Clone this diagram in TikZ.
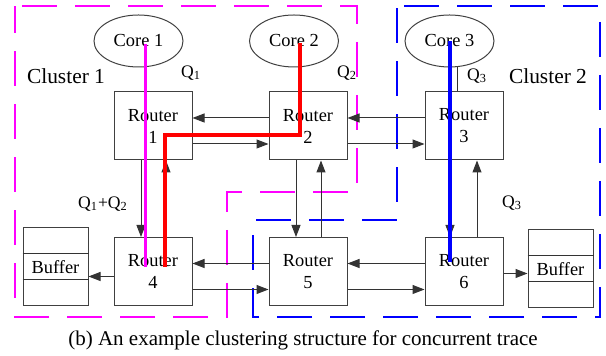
\documentclass[tikz,border=0pt]{standalone}
\usepackage{fontspec}
\setmainfont{Liberation Serif}
\usetikzlibrary{arrows.meta,shapes.geometric}
\definecolor{trmag}{RGB}{255,0,255}
\definecolor{trblue}{RGB}{0,0,255}
\definecolor{trred}{RGB}{255,0,0}

\begin{document}
\begin{tikzpicture}[x=0.5pt,y=-0.5pt,>={Triangle[length=6pt,width=4.5pt]},
  router/.style={draw=black!75,line width=0.5pt,minimum width=39pt,minimum height=34pt,
    inner sep=0pt,align=center,font=\fontsize{9.2}{11}\selectfont},
  core/.style={ellipse,draw=black!75,line width=0.5pt,minimum width=44.5pt,minimum height=26pt,
    inner sep=0pt,font=\fontsize{9.2}{11}\selectfont},
  buffer/.style={draw=black!75,line width=0.5pt,minimum width=32.5pt,minimum height=39pt,
    inner sep=0pt,font=\fontsize{9.2}{11}\selectfont},
  link/.style={black!80,line width=0.5pt},
  cluster/.style={line width=1pt,dash pattern=on 17.5pt off 9pt,dash phase=23pt},
  trace/.style={line width=1.75pt},
  qlabel/.style={font=\fontsize{8.8}{10}\selectfont}]
  \useasboundingbox (0,0) rectangle (606,356);

  % clusters
  \draw[cluster,trmag] (15,6) -- (357,6) -- (357,192) -- (227,192) -- (227,317) -- (15,317) -- cycle;
  \draw[cluster,trblue] (397,6) -- (600,6) -- (600,317) -- (253,317) -- (253,220) -- (397,220) -- cycle;
  \node[font=\fontsize{10.7}{12}\selectfont] (cl1) at (66,76) {Cluster 1};
  \node[font=\fontsize{10.7}{12}\selectfont] (cl2) at (548,76) {Cluster 2};

  % cores
  \node[core] (c1) at (138.5,41) {Core 1};
  \node[core] (c2) at (294,41) {Core 2};
  \node[core] (c3) at (449.5,41) {Core 3};

  % routers
  \node[router] (r1) at (153,126) {Router\\1};
  \node[router] (r2) at (308,126) {Router\\2};
  \node[router] (r3) at (464,126) {Router\\3};
  \node[router] (r4) at (153,271.5) {Router\\4};
  \node[router] (r5) at (308,271.5) {Router\\5};
  \node[router] (r6) at (464,271.5) {Router\\6};

  % buffers
  \node[buffer] (bl) at (55.5,267) {Buffer};
  \draw[link] ([yshift=6.5pt]bl.west) -- ([yshift=6.5pt]bl.east);
  \draw[link] ([yshift=-6.5pt]bl.west) -- ([yshift=-6.5pt]bl.east);
  \node[buffer] (br) at (560.5,269) {Buffer};
  \draw[link] ([yshift=6.5pt]br.west) -- ([yshift=6.5pt]br.east);
  \draw[link] ([yshift=-6.5pt]br.west) -- ([yshift=-6.5pt]br.east);

  % horizontal links
  \draw[link,->] ([yshift=4pt]r2.west) -- ([yshift=4pt]r1.east);
  \draw[link,->] ([yshift=-9pt]r1.east) -- ([yshift=-9pt]r2.west);
  \draw[link,->] ([yshift=4pt]r3.west) -- ([yshift=4pt]r2.east);
  \draw[link,->] ([yshift=-9pt]r2.east) -- ([yshift=-9pt]r3.west);
  \draw[link,->] ([yshift=4pt]r5.west) -- ([yshift=4pt]r4.east);
  \draw[link,->] ([yshift=-9pt]r4.east) -- ([yshift=-9pt]r5.west);
  \draw[link,->] ([yshift=4pt]r6.west) -- ([yshift=4pt]r5.east);
  \draw[link,->] ([yshift=-9pt]r5.east) -- ([yshift=-9pt]r6.west);
  \draw[link,->] ([yshift=-2.5pt]r4.west) -- ([yshift=-2.5pt]r4.west -| bl.east);
  \draw[link,->] ([yshift=-1pt]r6.east) -- ([yshift=-1pt]r6.east -| br.west);

  % vertical links
  \draw[link,->] ([xshift=-6pt]r1.south) -- ([xshift=-6pt]r4.north);
  \draw[link,->] ([xshift=6.5pt]r4.north) -- ([xshift=6.5pt]r1.south);
  \draw[link,->] ([xshift=-6pt]r2.south) -- ([xshift=-6pt]r5.north);
  \draw[link,->] ([xshift=6.5pt]r5.north) -- ([xshift=6.5pt]r2.south);
  \draw[link,->] ([xshift=-7pt]r3.south) -- ([xshift=-7pt]r6.north);
  \draw[link,->] ([xshift=6.5pt]r6.north) -- ([xshift=6.5pt]r3.south);
  \draw[link] ([xshift=-3.5pt]r3.north) -- ([xshift=-3.5pt]r3.north |- c3.south);

  % queue labels
  \node[qlabel] (q1) at (191,73) {Q\textsubscript{1}};
  \node[qlabel] (q2) at (347,73) {Q\textsubscript{2}};
  \node[qlabel] (q3) at (477,76) {Q\textsubscript{3}};
  \node[qlabel] (q12) at (103,204) {Q\textsubscript{1}+Q\textsubscript{2}};
  \node[qlabel] (q3b) at (512,203) {Q\textsubscript{3}};

  % traces
  \draw[trace,trmag,line width=1.5pt] ([xshift=3.25pt,yshift=-1.5pt]c1.center) -- ([xshift=-4pt,yshift=2pt]r4.center);
  \draw[trace,trred] ([xshift=3pt,yshift=-1pt]c2.center) |- ([xshift=6pt,yshift=-4.5pt]r1.center) -- ([xshift=6pt,yshift=2pt]r4.center);
  \draw[trace,trblue] ([xshift=-7pt]r6.center |- c3.center) -- ([xshift=-7pt,yshift=4.5pt]r6.center);

  \node[font=\fontsize{10.5}{12}\selectfont] (cap) at (303,340) {(b) An example clustering structure for concurrent trace};
\end{tikzpicture}
\end{document}
